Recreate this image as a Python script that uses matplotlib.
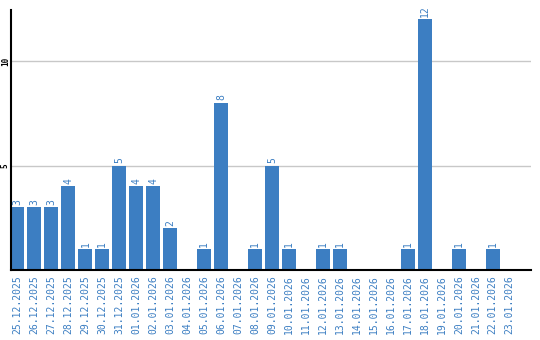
import matplotlib
matplotlib.use("Agg")
import matplotlib.pyplot as plt

dates = ["25.12.2025", "26.12.2025", "27.12.2025", "28.12.2025", "29.12.2025",
         "30.12.2025", "31.12.2025", "01.01.2026", "02.01.2026", "03.01.2026",
         "04.01.2026", "05.01.2026", "06.01.2026", "07.01.2026", "08.01.2026",
         "09.01.2026", "10.01.2026", "11.01.2026", "12.01.2026", "13.01.2026",
         "14.01.2026", "15.01.2026", "16.01.2026", "17.01.2026", "18.01.2026",
         "19.01.2026", "20.01.2026", "21.01.2026", "22.01.2026", "23.01.2026"]
counts = [3, 3, 3, 4, 1, 1, 5, 4, 4, 2, 0, 1, 8, 0, 1,
          5, 1, 0, 1, 1, 0, 0, 0, 1, 12, 0, 1, 0, 1, 0]
yticks = [5, 10]

blue = "#3c7ec2"

fig = plt.figure(figsize=(5.4, 3.4), dpi=100)
ax = fig.add_axes([10.5 / 540, 70 / 340, 520.5 / 540, 260 / 340])

x = list(range(len(dates)))
ax.bar(x, counts, width=0.82, color=blue, zorder=2)

for xi, v in zip(x, counts):
    if v > 0:
        ax.text(xi, v + 0.12, str(v), rotation=90, ha="center", va="bottom",
                color=blue, fontsize=7, family="DejaVu Sans Mono")

ax.set_xlim(-0.41, 30.25)
ax.set_ylim(0, 12.45)
ax.set_yticks(yticks)
ax.set_yticklabels([str(t) for t in yticks], rotation=90, va="center",
                   fontsize=5.5, family="DejaVu Sans Mono", fontweight="bold")
ax.set_xticks(x)
ax.set_xticklabels(dates, rotation=90, color=blue, fontsize=7,
                   family="DejaVu Sans Mono")
ax.tick_params(length=0, pad=4)
ax.tick_params(axis="y", pad=0.5)

ax.yaxis.grid(True, color="#c8c8c8", linewidth=1, zorder=0)
ax.set_axisbelow(True)
for side in ("top", "right"):
    ax.spines[side].set_visible(False)
ax.spines["left"].set_linewidth(1.5)
ax.spines["bottom"].set_linewidth(1.5)

fig.savefig("out.png", dpi=100)
